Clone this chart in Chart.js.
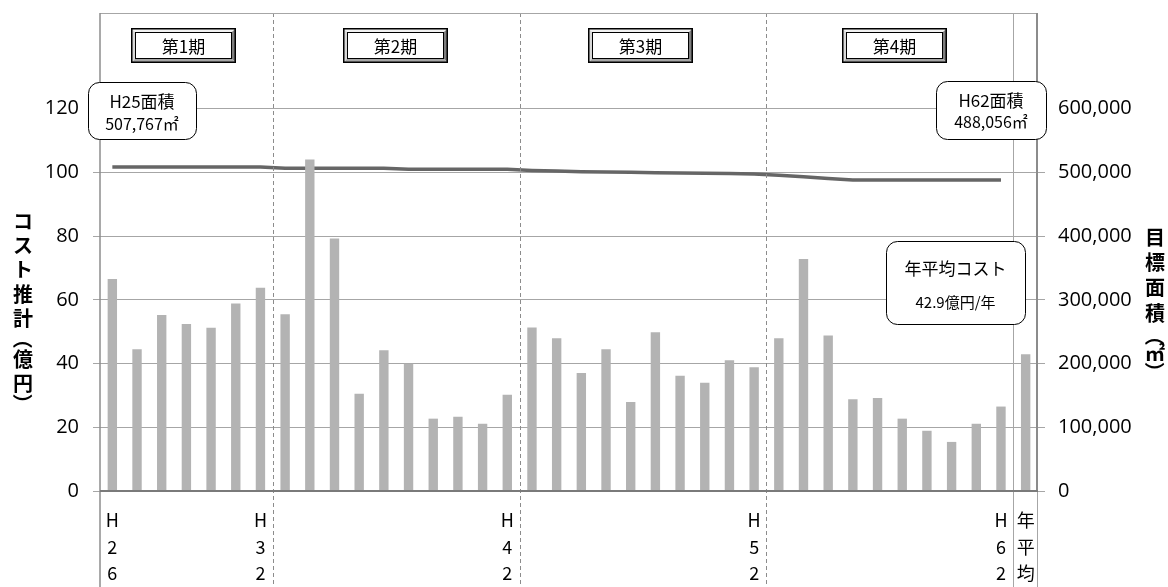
<!DOCTYPE html>
<html><head><meta charset="utf-8">
<script src="https://cdn.jsdelivr.net/npm/chart.js@4/dist/chart.umd.min.js"></script>
<style>html,body{margin:0;padding:0;background:#fff;}#wrap{width:1168px;height:587px;}</style>
</head><body><div id="wrap"><canvas id="c" width="1168" height="587"></canvas></div>
<script>
const categories = ['H26','H27','H28','H29','H30','H31','H32','H33','H34','H35','H36','H37','H38','H39','H40','H41','H42','H43','H44','H45','H46','H47','H48','H49','H50','H51','H52','H53','H54','H55','H56','H57','H58','H59','H60','H61','H62','年平均'];
const costValues = [66.5,44.5,55.2,52.4,51.2,58.8,63.8,55.5,104,79.2,30.5,44.2,39.9,22.7,23.3,21.1,30.2,51.3,47.9,37,44.5,27.9,49.8,36.2,34,41,38.8,47.9,72.8,48.8,28.8,29.2,22.7,18.9,15.4,21.1,26.5,42.9];
const areaValues = [508500,508500,508500,508500,508500,508500,508500,506500,506500,506500,506500,506500,504800,504800,504800,504800,504800,503000,502000,501000,500500,500000,499500,499000,498500,498000,497500,495500,493000,490500,488056,488056,488056,488056,488056,488056,488056,null];
const leftTicks = [0,20,40,60,80,100,120];
const rightTicks = [0,100000,200000,300000,400000,500000,600000];
const labelledCategories = ['H26','H32','H42','H52','H62','年平均'];
const periodLabels = ['第1期','第2期','第3期','第4期'];
const periodFirst = ['H26','H33','H43','H53'];
const leftTitle = 'コスト推計（億円）';
const rightTitle = '目標面積（㎡）';
const calloutStart = ['H25面積','507,767㎡'];
const calloutEnd = ['H62面積','488,056㎡'];
const calloutAvg = ['年平均コスト','42.9億円/年'];

const JP = '"Noto Sans CJK JP", "Noto Sans", sans-serif';
const NUM = '"Open Sans", "Noto Sans", sans-serif';

function bevelBox(ctx, x, y, w, h, text) {
  const b = 4;
  ctx.save();
  ctx.fillStyle = '#fff';
  ctx.fillRect(x, y, w, h);
  // top bevel
  ctx.fillStyle = '#f2f2f2';
  ctx.beginPath(); ctx.moveTo(x, y); ctx.lineTo(x + w, y); ctx.lineTo(x + w - b, y + b); ctx.lineTo(x + b, y + b); ctx.closePath(); ctx.fill();
  // left bevel
  ctx.fillStyle = '#d9d9d9';
  ctx.beginPath(); ctx.moveTo(x, y); ctx.lineTo(x + b, y + b); ctx.lineTo(x + b, y + h - b); ctx.lineTo(x, y + h); ctx.closePath(); ctx.fill();
  // right bevel
  ctx.fillStyle = '#7f7f7f';
  ctx.beginPath(); ctx.moveTo(x + w, y); ctx.lineTo(x + w, y + h); ctx.lineTo(x + w - b, y + h - b); ctx.lineTo(x + w - b, y + b); ctx.closePath(); ctx.fill();
  // bottom bevel
  ctx.fillStyle = '#a6a6a6';
  ctx.beginPath(); ctx.moveTo(x, y + h); ctx.lineTo(x + w, y + h); ctx.lineTo(x + w - b, y + h - b); ctx.lineTo(x + b, y + h - b); ctx.closePath(); ctx.fill();
  ctx.strokeStyle = '#000';
  ctx.lineWidth = 1;
  ctx.strokeRect(x + b + 0.5, y + b + 0.5, w - 2 * b - 1, h - 2 * b - 1);
  ctx.lineWidth = 1.5;
  ctx.strokeRect(x + 0.75, y + 0.75, w - 1.5, h - 1.5);
  ctx.fillStyle = '#000';
  ctx.font = '17px ' + JP;
  ctx.textAlign = 'center';
  ctx.textBaseline = 'middle';
  ctx.fillText(text, x + w / 2, y + h / 2 + 1);
  ctx.restore();
}

function callout(ctx, x, y, w, h, lines, ys, sizes) {
  ctx.save();
  ctx.beginPath();
  ctx.roundRect(x + 0.5, y + 0.5, w, h, 11);
  ctx.fillStyle = '#fff';
  ctx.fill();
  ctx.strokeStyle = '#000';
  ctx.lineWidth = 1;
  ctx.stroke();
  ctx.fillStyle = '#000';
  ctx.textAlign = 'center';
  ctx.textBaseline = 'middle';
  lines.forEach((t, i) => {
    ctx.font = sizes[i] + 'px ' + JP;
    ctx.fillText(t, x + w / 2, ys[i]);
  });
  ctx.restore();
}

function verticalText(ctx, text, cx, startY, wReg, wParen) {
  ctx.save();
  ctx.fillStyle = '#000';
  ctx.font = 'bold 20px ' + JP;
  ctx.textAlign = 'center';
  ctx.textBaseline = 'middle';
  const chars = Array.from(text);
  const width = c => (c === '（' || c === '）') ? wParen : (c === '㎡' ? 16 : wReg);
  let y = startY;
  chars.forEach((c, i) => {
    if (i > 0) y += (width(chars[i - 1]) + width(c)) / 2;
    if (c === '（' || c === '）') {
      ctx.save();
      ctx.translate(cx, y);
      ctx.rotate(Math.PI / 2);
      ctx.fillText(c, 0, 0);
      ctx.restore();
    } else {
      ctx.fillText(c, cx, y);
    }
  });
  ctx.restore();
}

const framePlugin = {
  id: 'frame',
  afterDraw(chart) {
    const ctx = chart.ctx;
    const xs = chart.scales.x;
    const ca = chart.chartArea;
    const H = chart.height;
    const bound = i => (xs.getPixelForValue(i - 1) + xs.getPixelForValue(i)) / 2;
    ctx.save();
    // dashed period separators
    ctx.strokeStyle = '#8c8c8c';
    ctx.lineWidth = 1;
    ctx.setLineDash([4, 3]);
    periodFirst.slice(1).forEach(c => {
      const x = Math.round(bound(categories.indexOf(c))) + 0.5;
      ctx.beginPath(); ctx.moveTo(x, ca.top); ctx.lineTo(x, H); ctx.stroke();
    });
    ctx.setLineDash([]);
    // solid separator before average
    ctx.strokeStyle = '#a6a6a6';
    let xa = Math.round(bound(categories.length - 1)) + 0.5;
    ctx.beginPath(); ctx.moveTo(xa, ca.top); ctx.lineTo(xa, H); ctx.stroke();
    // top border
    ctx.beginPath(); ctx.moveTo(ca.left, ca.top + 0.5); ctx.lineTo(ca.right, ca.top + 0.5); ctx.stroke();
    // right thin border extending down
    ctx.beginPath(); ctx.moveTo(ca.right - 0.5, ca.top); ctx.lineTo(ca.right - 0.5, H); ctx.stroke();
    // left axis line
    ctx.strokeStyle = '#8c8c8c';
    ctx.lineWidth = 1.5;
    ctx.beginPath(); ctx.moveTo(ca.left, ca.top); ctx.lineTo(ca.left, H); ctx.stroke();
    // right axis line
    ctx.strokeStyle = '#8c8c8c';
    ctx.lineWidth = 2;
    ctx.beginPath(); ctx.moveTo(ca.right - 1, ca.top); ctx.lineTo(ca.right - 1, ca.bottom); ctx.stroke();
    // bottom axis
    ctx.strokeStyle = '#7a7a7a';
    ctx.lineWidth = 2;
    ctx.beginPath(); ctx.moveTo(ca.left, ca.bottom); ctx.lineTo(ca.right, ca.bottom); ctx.stroke();
    ctx.restore();

    // period boxes
    const boxX = [131, 343, 588, 842];
    periodLabels.forEach((t, i) => bevelBox(ctx, boxX[i], 28, 105, 35, t));

    // callouts
    callout(ctx, 88, 82, 108, 57, calloutStart, [102, 124], [17, 16]);
    callout(ctx, 936, 81, 110, 58, calloutEnd, [101, 122], [17, 16]);
    callout(ctx, 886, 241, 139, 83, calloutAvg, [269, 302], [17, 15]);

    // axis titles
    verticalText(ctx, leftTitle, 23, 221, 24.4, 16);
    verticalText(ctx, rightTitle, 1155, 237.5, 25.2, 20);
  }
};

const numFont = {family: NUM, size: 20};

new Chart(document.getElementById('c'), {
  type: 'bar',
  data: {
    labels: categories,
    datasets: [
      {type: 'bar', label: 'コスト推計', data: costValues, backgroundColor: '#b3b3b3', yAxisID: 'y', order: 1, barPercentage: 0.38, categoryPercentage: 1},
      {type: 'line', label: '目標面積', data: areaValues, borderColor: '#666666', borderWidth: 3.5, pointRadius: 0, tension: 0, yAxisID: 'y1', order: 2, fill: false}
    ]
  },
  options: {
    responsive: false,
    animation: false,
    devicePixelRatio: 1,
    layout: {padding: {top: 13, left: 0, right: 0, bottom: 0}},
    plugins: {legend: {display: false}, tooltip: {enabled: false}},
    scales: {
      x: {
        grid: {display: false, drawTicks: false},
        border: {display: false},
        ticks: {
          autoSkip: false, maxRotation: 0, minRotation: 0, padding: 16, color: '#000',
          font: {family: JP, size: 18, lineHeight: 1.47},
          callback: function (v, i) { const c = categories[i]; return labelledCategories.includes(c) ? Array.from(c) : ''; }
        },
        afterFit(s) { s.height = 96; s.paddingLeft = 0; s.paddingRight = 0; }
      },
      y: {
        type: 'linear', position: 'left', min: 0, max: 150,
        grid: {color: '#a6a6a6', tickLength: 7, drawTicks: true},
        border: {display: false},
        ticks: {padding: 14, color: '#000', font: numFont},
        afterBuildTicks(s) { s.ticks = leftTicks.map(v => ({value: v})); },
        afterFit(s) { s.width = 100; s.paddingTop = 0; s.paddingBottom = 0; }
      },
      y1: {
        type: 'linear', position: 'right', min: 0, max: 750000,
        grid: {drawOnChartArea: false, color: '#a6a6a6', tickLength: 7, drawTicks: true},
        border: {display: false},
        ticks: {padding: 13, color: '#000', font: numFont, callback: v => v.toLocaleString('en-US')},
        afterBuildTicks(s) { s.ticks = rightTicks.map(v => ({value: v})); },
        afterFit(s) { s.width = 130; s.paddingTop = 0; s.paddingBottom = 0; }
      }
    }
  },
  plugins: [framePlugin]
});
</script>
</body></html>
